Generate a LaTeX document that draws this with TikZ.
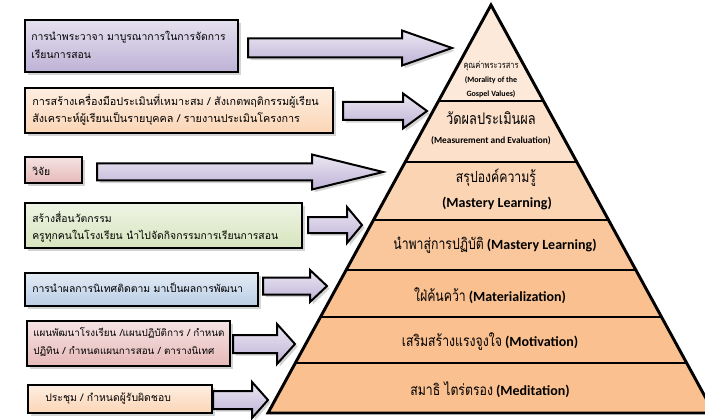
\documentclass[tikz,border=0pt]{standalone}
\usepackage{fontspec}
\setmainfont{Carlito}
\newfontfamily\thaifont[Script=Thai]{Loma}
\newfontfamily\thainarrow[Script=Thai, FakeStretch=0.8]{Loma}
\usepackage{tikz}
\usetikzlibrary{shadows}
\definecolor{lav}{RGB}{190,178,214}
\definecolor{peach}{RGB}{251,213,181}
\definecolor{rose}{RGB}{230,185,184}
\definecolor{sage}{RGB}{215,228,189}
\definecolor{sky}{RGB}{185,205,229}
\definecolor{lay1}{RGB}{253,233,217}
\definecolor{lay2}{RGB}{252,224,202}
\definecolor{lay3}{RGB}{251,212,180}
\definecolor{lay4}{RGB}{250,199,156}
\definecolor{lay5}{RGB}{250,192,143}
\tikzset{
  box/.style={line width=1.5pt, drop shadow={opacity=0.35, shadow xshift=2pt, shadow yshift=-2pt}},
  boxtext/.style={anchor=west, align=left, inner sep=0pt, font=\thaifont\fontsize{7.8}{13}\selectfont},
  arrowbody/.style={line width=1.5pt, line join=miter, top color=white!70!lav, bottom color=lav, drop shadow={opacity=0.35, shadow xshift=2pt, shadow yshift=-2pt}},
  laytext/.style={inner sep=0pt, align=center},
  thbig/.style={font=\thainarrow\fontsize{11.5}{13}\selectfont},
  enbig/.style={font=\bfseries\fontsize{10.5}{12}\selectfont}
}
% block arrow: start x, head x, tip x, y, shaft half, head half
\newcommand\blockarrow[6]{%
  \draw[arrowbody] (#1,#4-#5) -- (#2,#4-#5) -- (#2,#4-#6) -- (#3,#4) -- (#2,#4+#6) -- (#2,#4+#5) -- (#1,#4+#5) -- cycle;}
\begin{document}
\begin{tikzpicture}[x=0.75pt, y=-0.75pt]
\useasboundingbox (0,0) rectangle (705,420);
\clip (0,0) rectangle (705,420);
% pyramid
\begin{scope}
\clip (491,5) -- (268,413) -- (714,413) -- cycle;
\foreach \ya/\yb/\col in {5/101/lay1, 101/162/lay2, 162/220/lay3, 220/270/lay4, 270/317/lay5, 317/363/lay5, 363/413/lay5}
  \fill[\col] (200,\ya) rectangle (720,\yb);
\foreach \y in {101,162,220,270,317,363}
  \draw[line width=1.8pt] (200,\y) -- (720,\y);
\end{scope}
\draw[line width=2.2pt, line join=miter] (491,5) -- (268,413) -- (714,413) -- cycle;
% layer labels
\node[laytext, font=\thainarrow\fontsize{7}{8}\selectfont] (p1) at (491,66) {คุณค่าพระวรสาร};
\node[laytext, font=\bfseries\fontsize{6}{7}\selectfont] (p1b) at (491,80) {(Morality of the};
\node[laytext, font=\bfseries\fontsize{6}{7}\selectfont] (p1c) at (491,94) {Gospel Values)};
\node[laytext, font=\thainarrow\fontsize{12}{14}\selectfont] (p2) at (491,118) {วัดผลประเมินผล};
\node[laytext, font=\bfseries\fontsize{7}{8}\selectfont] (p2b) at (491,141) {(Measurement and Evaluation)};
\node[laytext, thbig] (p3) at (496,178) {สรุปองค์ความรู้};
\node[laytext, enbig] (p3b) at (497,203) {(Mastery Learning)};
\node[laytext] (p4) at (495,245) {{\thainarrow\fontsize{11.5}{13}\selectfont นำพาสู่การปฏิบัติ} {\bfseries\fontsize{10.5}{12}\selectfont (Mastery Learning)}};
\node[laytext] (p5) at (490,296) {{\thainarrow\fontsize{11.5}{13}\selectfont ใฝ่ค้นคว้า} {\bfseries\fontsize{10.5}{12}\selectfont (Materialization)}};
\node[laytext] (p6) at (490,342) {{\thainarrow\fontsize{11.5}{13}\selectfont เสริมสร้างแรงจูงใจ} {\bfseries\fontsize{10.5}{12}\selectfont (Motivation)}};
\node[laytext] (p7) at (490,390) {{\thainarrow\fontsize{11.5}{13}\selectfont สมาธิ ไตร่ตรอง} {\bfseries\fontsize{10.5}{12}\selectfont (Meditation)}};
% boxes
\draw[box, top color=white!60!lav, bottom color=lav] (25,20) rectangle (238,72);
\node[boxtext] (t1) at (31,45) {การนำพระวาจา มาบูรณาการในการจัดการ\\เรียนการสอน};
\draw[box, top color=white!60!peach, bottom color=peach] (25,88) rectangle (333,133);
\node[boxtext, font=\thaifont\fontsize{8.1}{13}\selectfont] (t2) at (32,110) {การสร้างเครื่องมือประเมินที่เหมาะสม / สังเกตพฤติกรรมผู้เรียน\\สังเคราะห์ผู้เรียนเป็นรายบุคคล / รายงานประเมินโครงการ};
\draw[box, top color=white!60!rose, bottom color=rose] (25,157) rectangle (82,183);
\node[boxtext] (t3) at (32,171) {วิจัย};
\draw[box, top color=white!60!sage, bottom color=sage] (25,203) rectangle (302,248);
\node[boxtext] (t4) at (32,227) {สร้างสื่อนวัตกรรม\\ครูทุกคนในโรงเรียน นำไปจัดกิจกรรมการเรียนการสอน};
\draw[box, top color=white!60!sky, bottom color=sky] (25,273) rectangle (258,306);
\node[boxtext] (t5) at (32,288) {การนำผลการนิเทศติดตาม มาเป็นผลการพัฒนา};
\draw[box, top color=white!60!rose, bottom color=rose] (27,321) rectangle (230,366);
\node[boxtext, font=\thaifont\fontsize{7.4}{13}\selectfont] (t6) at (33,342) {แผนพัฒนาโรงเรียน /แผนปฏิบัติการ / กำหนด\\ปฏิทิน / กำหนดแผนการสอน / ตารางนิเทศ};
\draw[box, top color=white!60!peach, bottom color=peach] (28,385) rectangle (212,413);
\node[boxtext] (t7) at (45,399) {ประชุม / กำหนดผู้รับผิดชอบ};
% arrows
\blockarrow{248}{402}{452}{48}{9.5}{17.5}
\blockarrow{343}{403}{427}{111}{9}{17.5}
\blockarrow{97}{312}{383}{172}{8.5}{17.5}
\blockarrow{308}{347}{362}{225}{8}{18}
\blockarrow{263}{310}{327}{286}{8.5}{16}
\blockarrow{233}{277}{295}{344}{9}{20}
\blockarrow{213}{252}{268}{400}{9}{18}
\end{tikzpicture}
\end{document}
